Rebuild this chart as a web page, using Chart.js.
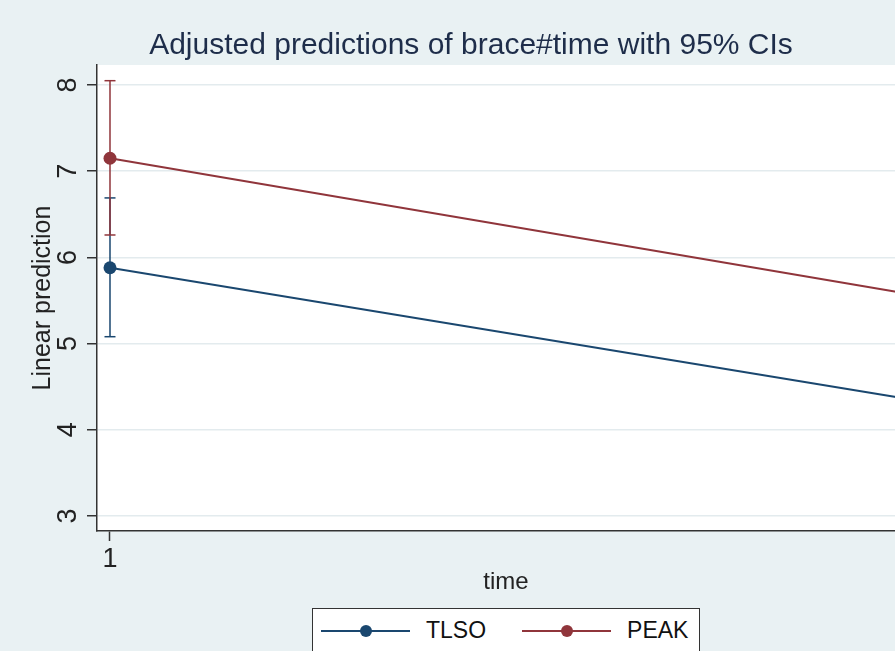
<!DOCTYPE html>
<html><head><meta charset="utf-8">
<script src="https://cdn.jsdelivr.net/npm/chart.js@4.4.0/dist/chart.umd.min.js"></script>
<style>
html,body{margin:0;padding:0;background:#e9f1f3;overflow:hidden;width:895px;height:651px;}
#wrap{position:relative;width:942px;height:651px;}
#c{position:absolute;left:0;top:0;}
#legend{position:absolute;left:312px;top:608px;width:388px;height:70px;background:#fff;border:1.5px solid #333;box-sizing:border-box;font-family:"Liberation Sans",Arial,sans-serif;font-size:23px;color:#111;display:flex;align-items:flex-start;padding-left:8px;padding-top:8px;}
#legend .item{display:flex;align-items:center;height:27px;margin-right:36px;}
#legend .sw{position:relative;width:89px;height:27px;margin-right:16px;}
#legend .sw::before{content:'';position:absolute;left:0;right:0;top:12.5px;height:2px;background:var(--c);}
#legend .sw i{position:absolute;left:38.5px;top:7.5px;width:12px;height:12px;border-radius:50%;background:var(--c);}
#legend .lb{line-height:27px;}
</style>
</head><body>
<div id="wrap"><canvas id="c" width="942" height="651"></canvas><div id="legend"></div></div>
<script>
// ---- data (time 2 lies just beyond the cropped right edge, estimated) ----
const timeValues = [1, 2];
const xTickLabels = ['1', '2'];
const yTickValues = [3, 4, 5, 6, 7, 8];
const seriesNames = ['TLSO', 'PEAK'];
const seriesColors = ['#1a476f', '#90353b'];
const tlsoMargin = [5.88, 4.37];
const tlsoLow    = [5.08, 3.55];
const tlsoHigh   = [6.69, 5.15];
const peakMargin = [7.15, 5.59];
const peakLow    = [6.26, 4.70];
const peakHigh   = [8.05, 6.48];

const FONT = '"Liberation Sans", Arial, sans-serif';

function pts(vals){ return timeValues.map((t,i)=>({x:t, y:vals[i]})); }
function ciPts(lo, hi){
  const out = [];
  timeValues.forEach((t,i)=>{
    if (i>0) out.push({x:t, y:null});
    out.push({x:t, y:lo[i]}); out.push({x:t, y:hi[i]});
  });
  return out;
}
function lineDs(label, vals, color, order){
  return {label, data: pts(vals), showLine:true, borderColor:color, backgroundColor:color,
    borderWidth:2, pointRadius:6.5, pointBackgroundColor:color, pointBorderColor:color,
    pointBorderWidth:0, order};
}
function ciDs(label, lo, hi, color, order){
  return {label, data: ciPts(lo, hi), showLine:true, spanGaps:false, borderColor:color,
    borderWidth:1.5, pointStyle:'line', pointRadius:5.5, pointBorderColor:color,
    pointBorderWidth:1.5, order};
}

const plotBg = {
  id:'plotBg',
  beforeDraw(chart){
    const {ctx, chartArea:a} = chart;
    ctx.save(); ctx.fillStyle = '#ffffff';
    ctx.fillRect(a.left, a.top, a.right-a.left, a.bottom-a.top);
    ctx.restore();
  }
};

new Chart(document.getElementById('c'), {
  type:'scatter',
  data:{ datasets:[
    lineDs(seriesNames[1], peakMargin, seriesColors[1], 0),
    ciDs(seriesNames[1]+' CI', peakLow, peakHigh, seriesColors[1], 1),
    lineDs(seriesNames[0], tlsoMargin, seriesColors[0], 2),
    ciDs(seriesNames[0]+' CI', tlsoLow, tlsoHigh, seriesColors[0], 3)
  ]},
  options:{
    responsive:false, animation:false, events:[],
    layout:{ padding:{left:0, right:0, top:0, bottom:50} },
    plugins:{
      legend:{display:false}, tooltip:{enabled:false},
      title:{ display:true, text:'Adjusted predictions of brace#time with 95% CIs',
        font:{family:FONT, size:30, weight:'normal'}, color:'#1e2d4a',
        padding:{top:28, bottom:1} }
    },
    scales:{
      x:{ type:'linear', min:0.98359, max:2.01641,
        afterBuildTicks:s=>{ s.ticks = timeValues.map(v=>({value:v})); },
        afterFit:s=>{ s.height = 70; },
        grid:{ drawOnChartArea:false, drawTicks:true, tickLength:10, tickColor:'#333', tickWidth:1.5 },
        border:{ display:true, color:'#333', width:1.5 },
        ticks:{ font:{family:FONT, size:27}, color:'#222', padding:2, maxRotation:0, autoSkip:false,
          callback:(v,i)=>xTickLabels[i] },
        title:{ display:true, text:'time', font:{family:FONT, size:24}, color:'#222', padding:{top:0, bottom:4} }
      },
      y:{ type:'linear', min:2.826, max:8.232,
        afterBuildTicks:s=>{ s.ticks = yTickValues.map(v=>({value:v})); },
        afterFit:s=>{ s.width = 97; },
        grid:{ color:'#e3ebee', lineWidth:1.5, drawTicks:true, tickLength:10, tickColor:'#333', tickWidth:1.5 },
        border:{ display:true, color:'#333', width:1.5 },
        ticks:{ font:{family:FONT, size:27}, color:'#222', minRotation:90, maxRotation:90,
          crossAlign:'center', padding:11, autoSkip:false, callback:v=>String(v) },
        title:{ display:true, text:'Linear prediction', font:{family:FONT, size:25}, color:'#222', padding:{top:28, bottom:0} }
      },
      yRight:{ type:'linear', position:'right', display:true, min:2.826, max:8.232,
        afterFit:s=>{ s.width = 27; },
        grid:{ display:false, drawTicks:false }, border:{ display:false },
        ticks:{ display:false }, title:{ display:false } }
    }
  },
  plugins:[plotBg]
});

const legend = document.getElementById('legend');
seriesNames.forEach((n,i)=>{
  const item = document.createElement('div'); item.className='item';
  const sw = document.createElement('span'); sw.className='sw'; sw.style.setProperty('--c', seriesColors[i]);
  sw.appendChild(document.createElement('i'));
  const lb = document.createElement('span'); lb.className='lb'; lb.textContent = n;
  item.appendChild(sw); item.appendChild(lb); legend.appendChild(item);
});
</script>
</body></html>
